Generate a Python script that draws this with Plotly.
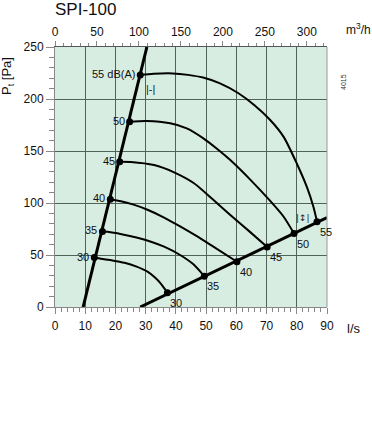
import plotly.graph_objects as go

# ---------------- data ----------------
# left system line (l/s, Pa)
left_line_x = [9.3, 30.4]
left_line_y = [0, 250]
# right system line
right_line_x = [28.2, 90.0]
right_line_y = [0, 86.0]

# sound level curves (dB(A)) : flow l/s, pressure Pa
db_levels = ["30", "35", "40", "45", "50", "55"]
c30_x = [13.0, 15.2, 19.0, 23.0, 27.0, 30.6, 33.0, 35.0, 37.2]
c30_y = [47.5, 46.4, 44.8, 42.5, 38.8, 34.0, 28.5, 22.5, 13.8]
c35_x = [15.7, 17.4, 22.0, 27.3, 32.0, 36.1, 41.4, 45.8, 49.4]
c35_y = [72.7, 72.3, 70.0, 66.5, 62.5, 58.0, 50.0, 41.0, 29.5]
c40_x = [18.3, 21.8, 26.0, 30.6, 36.1, 41.4, 46.5, 52.4, 60.2]
c40_y = [103.6, 101.6, 98.4, 93.5, 86.0, 77.5, 68.8, 58.0, 43.5]
c45_x = [21.4, 25.1, 32.8, 39.4, 46.0, 52.0, 58.0, 64.6, 70.2]
c45_y = [139.7, 139.5, 136.5, 129.5, 119.0, 104.0, 88.5, 72.0, 57.8]
c50_x = [24.7, 30.4, 38.1, 43.6, 49.1, 54.1, 58.0, 64.6, 71.2, 75.6, 79.1]
c50_y = [178.2, 178.8, 176.6, 171.8, 162.2, 151.0, 141.3, 122.5, 102.0, 87.0, 70.6]
c55_x = [28.2, 32.6, 39.0, 44.0, 49.0, 54.6, 60.7, 66.0, 71.2, 75.6, 80.0, 83.3, 85.5, 86.7]
c55_y = [223.0, 224.2, 224.6, 223.2, 220.6, 215.0, 205.5, 194.0, 179.8, 163.8, 138.0, 115.7, 96.4, 82.0]
curves_x = [c30_x, c35_x, c40_x, c45_x, c50_x, c55_x]
curves_y = [c30_y, c35_y, c40_y, c45_y, c50_y, c55_y]
left_labels = ["30", "35", "40", "45", "50", "55 dB(A)"]

# axes
x_range = [0, 90]
y_range = [0, 250]
x_ticks = [0, 10, 20, 30, 40, 50, 60, 70, 80, 90]
y_ticks = [0, 50, 100, 150, 200, 250]
m3h_ticks = [0, 50, 100, 150, 200, 250, 300]
m3h_range = [0, 324]

FONT = "Arial, Liberation Sans, sans-serif"
BG = "#d7ede1"
GRID = "#4f6358"

fig = go.Figure()

# sound curves
for cx, cy in zip(curves_x, curves_y):
    fig.add_trace(go.Scatter(x=cx, y=cy, mode="lines",
                             line=dict(color="black", width=2, shape="spline", smoothing=0.7),
                             hoverinfo="skip", showlegend=False))

# system lines
fig.add_trace(go.Scatter(x=left_line_x, y=left_line_y, mode="lines",
                         line=dict(color="black", width=3), showlegend=False))
fig.add_trace(go.Scatter(x=right_line_x, y=right_line_y, mode="lines",
                         line=dict(color="black", width=3), showlegend=False))

# points
start_x = [c[0] for c in curves_x]
start_y = [c[0] for c in curves_y]
end_x = [c[-1] for c in curves_x]
end_y = [c[-1] for c in curves_y]
fig.add_trace(go.Scatter(x=start_x + end_x, y=start_y + end_y, mode="markers",
                         marker=dict(color="black", size=7), showlegend=False))

# invisible trace for top axis
fig.add_trace(go.Scatter(x=m3h_range, y=[None, None], xaxis="x2", mode="markers",
                         marker=dict(opacity=0), showlegend=False))

annotations = []
for lbl, x, y in zip(left_labels, start_x, start_y):
    annotations.append(dict(x=x, y=y, text=lbl, showarrow=False, xanchor="right",
                            yanchor="middle", xshift=-3, yshift=1,
                            font=dict(family=FONT, size=11, color="#111")))
for lbl, x, y in zip(db_levels, end_x, end_y):
    annotations.append(dict(x=x, y=y, text=lbl, showarrow=False, xanchor="left",
                            yanchor="top", xshift=1, yshift=-2,
                            font=dict(family=FONT, size=11, color="#111")))

# small direction icons
annotations.append(dict(x=31.6, y=209.5, text="|-|", showarrow=False,
                        font=dict(family=FONT, size=11, color="#222")))
annotations.append(dict(x=82.1, y=86, text="|↕|", showarrow=False,
                        font=dict(family="DejaVu Sans", size=9, color="#222")))

def px2paper(px, py):
    return (px - 55) / 272.0, (307 - py) / 260.0

tx, ty = px2paper(53, 9)
annotations.append(dict(xref="paper", yref="paper", x=tx, y=ty, text="SPI-100",
                        showarrow=False, xanchor="left", yanchor="middle",
                        font=dict(family=FONT, size=17, color="#111")))
tx, ty = px2paper(7, 76)
annotations.append(dict(xref="paper", yref="paper", x=tx, y=ty, text="P<sub>t</sub> [Pa]",
                        showarrow=False, textangle=-90, xanchor="center", yanchor="middle",
                        font=dict(family=FONT, size=13, color="#111")))
tx, ty = px2paper(344, 29)
annotations.append(dict(xref="paper", yref="paper", x=tx, y=ty, text="m<sup>3</sup>/h",
                        showarrow=False, xanchor="left", yanchor="middle",
                        font=dict(family=FONT, size=12, color="#111")))
tx, ty = px2paper(345, 328)
annotations.append(dict(xref="paper", yref="paper", x=tx, y=ty, text="l/s",
                        showarrow=False, xanchor="left", yanchor="middle",
                        font=dict(family=FONT, size=13, color="#111")))
tx, ty = px2paper(343, 82)
annotations.append(dict(xref="paper", yref="paper", x=tx, y=ty, text="4015",
                        showarrow=False, textangle=-90, xanchor="center", yanchor="middle",
                        font=dict(family=FONT, size=7, color="#333")))

fig.update_layout(
    width=372, height=423,
    margin=dict(l=55, r=45, t=47, b=116, autoexpand=False),
    paper_bgcolor="white", plot_bgcolor=BG,
    showlegend=False,
    font=dict(family=FONT, size=12, color="#111"),
    xaxis=dict(range=x_range, tickvals=x_ticks, showgrid=True, gridcolor=GRID, gridwidth=1,
               zeroline=False, showline=True, linecolor="#888", linewidth=1, mirror=False,
               ticks="outside", ticklen=6, tickcolor="#888", automargin=False,
               minor=dict(dtick=2, ticks="outside", ticklen=4, tickcolor="#888", showgrid=False),
               ticklabelstandoff=2,
               tickfont=dict(family=FONT, size=12, color="#111")),
    xaxis2=dict(range=m3h_range, overlaying="x", side="top", tickvals=m3h_ticks,
                showgrid=False, zeroline=False, showline=True, linecolor="#555", linewidth=1,
                ticks="outside", ticklen=5, tickcolor="#888", automargin=False,
                minor=dict(dtick=10, ticks="outside", ticklen=3, tickcolor="#888", showgrid=False),
                tickfont=dict(family=FONT, size=12, color="#111")),
    yaxis=dict(range=y_range, tickvals=y_ticks, showgrid=True, gridcolor=GRID, gridwidth=1,
               zeroline=False, showline=True, linecolor="#888", linewidth=1, mirror=False,
               ticks="outside", ticklen=8, tickcolor="#888", automargin=False,
               minor=dict(dtick=10, ticks="outside", ticklen=5, tickcolor="#888", showgrid=False),
               tickfont=dict(family=FONT, size=12, color="#111")),
    annotations=annotations,
    shapes=[dict(type="line", xref="paper", yref="paper", x0=1, x1=1, y0=0, y1=1,
                 line=dict(color="#999", width=1))],
)

fig.write_html("out.html", config={"displayModeBar": False, "staticPlot": True},
               post_script="document.body.style.margin='0';")
